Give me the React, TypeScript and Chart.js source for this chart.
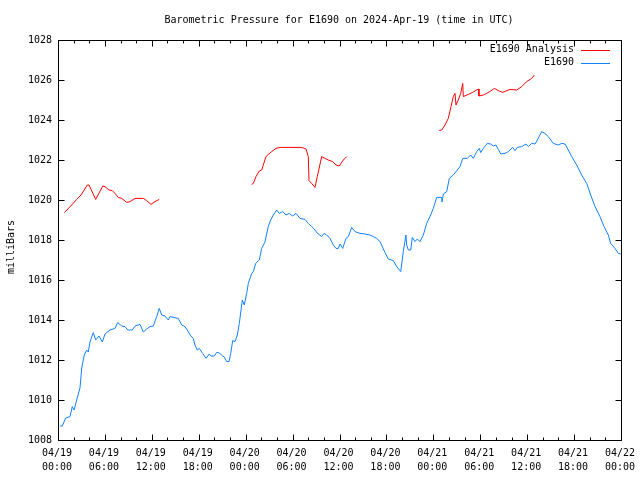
import React, { useEffect, useRef } from "react";
import { Chart, registerables } from "chart.js";

Chart.register(...registerables);

const TITLE = "Barometric Pressure for E1690 on 2024-Apr-19 (time in UTC)";
const Y_TITLE = "milliBars";

// x axis: hours since 04/19 00:00 UTC
const X_TICK_HOURS = [0, 6, 12, 18, 24, 30, 36, 42, 48, 54, 60, 66, 72];
const X_TICK_DATES = ["04/19", "04/19", "04/19", "04/19", "04/20", "04/20", "04/20", "04/20", "04/21", "04/21", "04/21", "04/21", "04/22"];
const X_TICK_TIMES = ["00:00", "06:00", "12:00", "18:00", "00:00", "06:00", "12:00", "18:00", "00:00", "06:00", "12:00", "18:00", "00:00"];
const X_MINOR_HOURS = [2, 4, 8, 10, 14, 16, 20, 22, 26, 28, 32, 34, 38, 40, 44, 46, 50, 52, 56, 58, 62, 64, 68, 70];
const Y_TICKS = [1008, 1010, 1012, 1014, 1016, 1018, 1020, 1022, 1024, 1026, 1028];

// Observed E1690 pressure
const observedHours = [
  0.26, 0.55, 0.98, 1.53, 1.83, 2.05, 2.39, 2.81, 3.03, 3.36, 3.67, 3.87, 4.09, 4.51, 4.82, 5.24, 5.67, 6.01,
  6.65, 7.29, 7.63, 8.15, 8.57, 8.91, 9.5, 9.85, 10.49, 10.91, 11.34, 11.77, 12.19, 12.62, 12.95, 13.26, 13.68,
  14.11, 14.32, 15.38, 15.82, 16.24, 16.66, 16.88, 17.3, 17.52, 17.81, 18.07, 18.5, 18.93, 19.35, 19.57, 19.99,
  20.3, 20.63, 21.06, 21.27, 21.57, 21.87, 22.09, 22.34, 22.64, 22.93, 23.19, 23.34, 23.57, 23.82, 24.13, 24.34,
  24.77, 24.98, 25.28, 25.74, 26.05, 26.47, 26.89, 27.2, 27.53, 27.97, 28.3, 28.74, 29.16, 29.58, 30.02, 30.44,
  30.95, 31.59, 32.01, 32.44, 32.87, 33.08, 33.72, 34.02, 34.36, 34.79, 35.21, 35.55, 35.85, 36.06, 36.41, 36.83,
  37.13, 37.56, 37.98, 38.62, 39.26, 39.9, 40.32, 40.76, 41.18, 41.82, 42.24, 42.88, 43.32, 43.83, 44.16, 44.5,
  44.59, 44.8, 45.11, 45.31, 45.66, 45.95, 46.3, 46.72, 47.15, 47.57, 48.0, 48.43, 49.07, 49.11, 49.28, 49.71,
  50.04, 50.55, 50.9, 51.41, 51.76, 52.35, 52.78, 53.11, 53.55, 53.88, 54.06, 54.39, 54.9, 55.34, 55.67, 56.01,
  56.31, 56.62, 57.17, 57.59, 58.15, 58.45, 58.74, 59.3, 59.85, 60.15, 60.58, 61.0, 61.3, 61.86, 62.28, 62.7,
  63.34, 63.98, 64.42, 64.84, 65.26, 65.7, 66.33, 66.97, 67.61, 68.12, 68.68, 69.31, 69.83, 70.38, 70.68, 71.23,
  71.66, 71.97,
];
const observedPressure = [
  1008.7, 1008.7, 1009.1, 1009.17, 1009.67, 1009.5, 1010.0, 1010.6, 1011.6, 1012.25, 1012.5, 1012.4, 1012.9,
  1013.37, 1013.0, 1013.2, 1012.9, 1013.3, 1013.5, 1013.58, 1013.87, 1013.7, 1013.67, 1013.5, 1013.5, 1013.7,
  1013.78, 1013.4, 1013.55, 1013.67, 1013.7, 1014.17, 1014.58, 1014.25, 1014.2, 1014.0, 1014.17, 1014.08,
  1013.75, 1013.67, 1013.42, 1013.25, 1013.08, 1012.75, 1012.5, 1012.58, 1012.33, 1012.08, 1012.3, 1012.2,
  1012.2, 1012.38, 1012.35, 1012.2, 1012.15, 1011.92, 1011.92, 1012.33, 1012.97, 1012.92, 1013.25, 1013.83,
  1014.3, 1015.0, 1014.75, 1015.33, 1015.83, 1016.33, 1016.42, 1016.83, 1017.0, 1017.58, 1017.9, 1018.67,
  1019.0, 1019.25, 1019.5, 1019.33, 1019.42, 1019.25, 1019.33, 1019.2, 1019.33, 1019.08, 1019.03, 1018.83,
  1018.67, 1018.5, 1018.37, 1018.17, 1018.33, 1018.25, 1018.08, 1017.75, 1017.58, 1017.58, 1017.8, 1017.58,
  1018.08, 1018.17, 1018.63, 1018.42, 1018.33, 1018.3, 1018.25, 1018.17, 1018.08, 1017.92, 1017.37, 1017.05,
  1016.97, 1016.67, 1016.42, 1017.42, 1018.25, 1017.75, 1017.5, 1017.5, 1018.13, 1017.92, 1018.05, 1017.92,
  1018.25, 1018.83, 1019.17, 1019.58, 1020.13, 1020.13, 1019.9, 1020.3, 1020.42, 1021.08, 1021.25, 1021.42,
  1021.67, 1022.08, 1022.08, 1022.25, 1022.08, 1022.42, 1022.58, 1022.37, 1022.58, 1022.83, 1022.8, 1022.7,
  1022.75, 1022.53, 1022.3, 1022.33, 1022.42, 1022.63, 1022.47, 1022.63, 1022.67, 1022.8, 1022.67, 1022.83,
  1022.8, 1023.0, 1023.42, 1023.33, 1023.17, 1022.83, 1022.75, 1022.83, 1022.8, 1022.5, 1022.17, 1021.75,
  1021.25, 1020.83, 1020.25, 1019.67, 1019.17, 1018.67, 1018.25, 1017.83, 1017.58, 1017.33, 1017.3,
];

// Analysis segments (gaps between them)
const analysis1Hours = [0.81, 1.75, 2.39, 2.94, 3.75, 3.96, 4.82, 5.72, 6.01, 6.52, 6.94, 7.29, 7.71, 8.15, 8.79, 9.21, 9.85, 10.91, 11.34, 11.89, 12.41, 12.95];
const analysis1Pressure = [1019.37, 1019.75, 1020.03, 1020.25, 1020.75, 1020.75, 1020.03, 1020.7, 1020.67, 1020.5, 1020.47, 1020.33, 1020.13, 1020.08, 1019.88, 1019.92, 1020.08, 1020.08, 1019.97, 1019.78, 1019.92, 1020.03];
const analysis2Hours = [24.77, 24.98, 25.32, 25.74, 26.05, 26.6, 26.89, 27.33, 27.88, 28.39, 31.17, 31.72, 32.01, 32.1, 32.44, 32.87, 33.16, 33.72, 34.14, 34.57, 35.13, 35.55, 35.97, 36.49, 36.92];
const analysis2Pressure = [1020.78, 1020.83, 1021.17, 1021.45, 1021.5, 1022.17, 1022.28, 1022.42, 1022.58, 1022.63, 1022.63, 1022.55, 1022.17, 1020.97, 1020.83, 1020.63, 1021.17, 1022.17, 1022.08, 1022.0, 1021.92, 1021.75, 1021.7, 1022.0, 1022.17];
const analysis3Hours = [48.76, 49.07, 49.49, 49.91, 50.26, 50.55, 50.77, 50.9, 51.19, 51.5, 51.76, 51.83, 52.47, 53.03, 53.75, 53.84, 54.39, 54.82, 55.34, 55.8, 56.31, 56.87, 57.29, 57.81, 58.66, 59.3, 59.94, 60.58, 60.91];
const analysis3Pressure = [1023.47, 1023.5, 1023.75, 1024.08, 1024.67, 1025.17, 1025.33, 1024.75, 1025.0, 1025.33, 1025.83, 1025.17, 1025.28, 1025.38, 1025.55, 1025.2, 1025.25, 1025.33, 1025.45, 1025.58, 1025.47, 1025.38, 1025.45, 1025.53, 1025.5, 1025.67, 1025.92, 1026.08, 1026.25];

const FONT = "10px 'DejaVu Sans Mono', monospace";

function pts(xs: number[], ys: number[]) {
  return xs.map((x, i) => ({ x, y: ys[i] }));
}

const gnuplotFrame = {
  id: "gnuplotFrame",
  afterDraw(chart: any) {
    const ctx = chart.ctx as CanvasRenderingContext2D;
    const { left, right, top, bottom } = chart.chartArea;
    const xs = chart.scales.x;
    const ys = chart.scales.y;
    ctx.save();
    ctx.strokeStyle = "#000";
    ctx.lineWidth = 1;
    ctx.strokeRect(Math.round(left) + 0.5, Math.round(top) + 0.5, Math.round(right - left), Math.round(bottom - top));

    const L = Math.round(left) + 0.5, R = Math.round(right) + 0.5, T = Math.round(top) + 0.5, B = Math.round(bottom) + 0.5;
    ctx.beginPath();
    const xTick = (h: number, len: number) => {
      const px = Math.round(xs.getPixelForValue(h)) + 0.5;
      ctx.moveTo(px, B); ctx.lineTo(px, B - len);
      ctx.moveTo(px, T); ctx.lineTo(px, T + len);
    };
    X_TICK_HOURS.forEach((h) => xTick(h, 6));
    X_MINOR_HOURS.forEach((h) => xTick(h, 3));
    Y_TICKS.forEach((v) => {
      const py = Math.round(ys.getPixelForValue(v)) + 0.5;
      ctx.moveTo(L, py); ctx.lineTo(L + 6, py);
      ctx.moveTo(R, py); ctx.lineTo(R - 6, py);
    });
    ctx.stroke();

    ctx.fillStyle = "#000";
    ctx.font = FONT;
    ctx.textBaseline = "middle";
    ctx.textAlign = "right";
    Y_TICKS.forEach((v) => {
      ctx.fillText(String(v), left - 6, ys.getPixelForValue(v));
    });
    ctx.textAlign = "center";
    X_TICK_HOURS.forEach((h, i) => {
      const px = xs.getPixelForValue(h);
      ctx.fillText(X_TICK_DATES[i], px - 1, bottom + 13);
      ctx.fillText(X_TICK_TIMES[i], px - 1, bottom + 27);
    });

    // title
    ctx.fillText(TITLE, 339, 20);

    // y title
    ctx.save();
    ctx.translate(11, 247);
    ctx.rotate(-Math.PI / 2);
    ctx.fillText(Y_TITLE, 0, 0);
    ctx.restore();

    // legend
    ctx.textAlign = "right";
    chart.data.datasets.forEach((ds: any, i: number) => {
      const y = 49.5 + i * 13;
      ctx.fillStyle = "#000";
      ctx.fillText(ds.label, 574, y);
      ctx.strokeStyle = ds.borderColor;
      ctx.beginPath();
      ctx.moveTo(581, Math.round(y) + 0.5);
      ctx.lineTo(610, Math.round(y) + 0.5);
      ctx.stroke();
    });
    ctx.restore();
  },
};

export default function App() {
  const ref = useRef<HTMLCanvasElement>(null);
  useEffect(() => {
    if (!ref.current) return;
    const analysisData = [
      ...pts(analysis1Hours, analysis1Pressure),
      { x: 18, y: null },
      ...pts(analysis2Hours, analysis2Pressure),
      { x: 42, y: null },
      ...pts(analysis3Hours, analysis3Pressure),
    ];
    const chart = new Chart(ref.current, {
      type: "line",
      data: {
        datasets: [
          {
            label: "E1690 Analysis",
            data: analysisData as any,
            borderColor: "#ff0000",
            borderWidth: 1,
            pointRadius: 0,
            spanGaps: false,
            tension: 0,
          },
          {
            label: "E1690",
            data: pts(observedHours, observedPressure),
            borderColor: "#1080ff",
            borderWidth: 1,
            pointRadius: 0,
            tension: 0,
          },
        ],
      },
      options: {
        responsive: false,
        animation: false,
        devicePixelRatio: 1,
        parsing: true,
        layout: { padding: { left: 58, right: 19, top: 40, bottom: 40 } },
        scales: {
          x: { type: "linear", min: 0, max: 72, display: false },
          y: { type: "linear", min: 1008, max: 1028, display: false },
        },
        plugins: {
          legend: { display: false },
          title: { display: false },
          tooltip: { enabled: false },
        },
      },
      plugins: [gnuplotFrame],
    });
    return () => chart.destroy();
  }, []);
  return (
    <div style={{ position: "absolute", left: 0, top: 0, width: 640, height: 480, background: "#fff" }}>
      <canvas ref={ref} width={640} height={480} style={{ display: "block" }} />
    </div>
  );
}
